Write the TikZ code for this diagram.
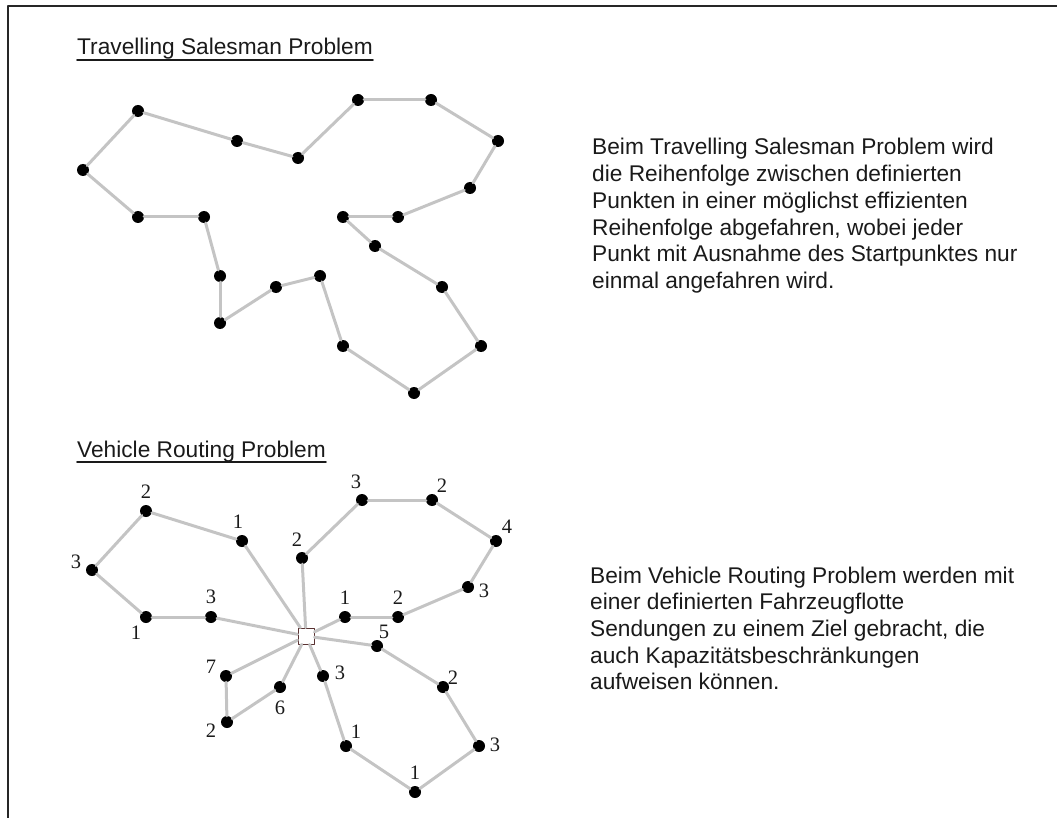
\documentclass[tikz,border=0pt]{standalone}
\usepackage{fontspec}
\setmainfont{Liberation Serif}
\newfontfamily\arialfont{Liberation Sans}
\usepackage{tikz}
\definecolor{edgegray}{RGB}{196,196,196}
\definecolor{txtcol}{RGB}{26,26,26}
\definecolor{depotcol}{RGB}{90,50,50}
\tikzset{
  dot/.style={circle,fill=black,minimum size=12pt,inner sep=0pt},
  depot/.style={rectangle,draw=depotcol,fill=white,line width=0.9pt,minimum size=16pt,inner sep=0pt},
  edge/.style={draw=edgegray,line width=3pt},
  num/.style={inner sep=0pt,text=txtcol,font=\fontsize{20.5}{21}\selectfont},
  heading/.style={inner sep=0pt,anchor=base west,text=txtcol,font=\arialfont\fontsize{22.7}{26}\selectfont},
  bodyline/.style={inner sep=0pt,anchor=base west,text=txtcol,font=\arialfont\fontsize{22.7}{26.7}\selectfont},
  ul/.style={draw=txtcol,line width=1.6pt}
}
\begin{document}
\begin{tikzpicture}[line cap=round,line join=round,x=1pt,y=-1pt]
\useasboundingbox (0,0) rectangle (1057,818);
\draw[line width=2pt,black!85,line cap=butt] (1057,6)--(8,6)--(8,818);
%
% Travelling Salesman Problem
\node[heading] (tsphead) at (77,55) {Travelling Salesman Problem};
\draw[ul] ([yshift=-5pt]tsphead.base west) -- ([yshift=-5pt]tsphead.base east);
\foreach \x/\y [count=\i] in {138/111,237/141,298/158,358/100,431/100,498/141,470/188,398/217,
  343/217,375/246,442/287,481/346,414/393,343/346,320/276,276/287,220/323,220/276,204/217,138/217,83/170}
  \node[dot] (t\i) at (\x,\y) {};
\foreach \i [remember=\i as \j (initially 21)] in {1,...,21}
  \draw[edge] (t\j) -- (t\i);
\foreach \t [count=\i] in {Beim Travelling Salesman Problem wird,die Reihenfolge zwischen definierten,
  Punkten in einer möglichst effizienten,{Reihenfolge abgefahren, wobei jeder},
  Punkt mit Ausnahme des Startpunktes nur,einmal angefahren wird.}
  \node[bodyline] (tsptext\i) at (592,{155+26.7*(\i-1)}) {\t};
%
% Vehicle Routing Problem
\node[heading] (vrphead) at (77,457) {Vehicle Routing Problem};
\draw[ul] ([yshift=-5pt]vrphead.base west) -- ([yshift=-5pt]vrphead.base east);
\node[depot] (d) at (306,636) {};
\foreach \x/\y/\c/\lx/\ly [count=\i] in {242/541/1/238/522,146/511/2/146/492,92/570/3/76/562,
  146/617/1/136/633,211/617/3/211/597,
  302/558/2/297/540,362/500/3/356/482,432/500/2/442/486,496/541/4/507/527,468/587/3/484/591,
  398/617/2/398/598,345/617/1/345/598,
  377/646/5/384/632,443/687/2/453/678,479/746/3/495/745,415/792/1/415/773,346/746/1/356/732,
  323/676/3/340/673,
  226/676/7/211/667,227/722/2/211/731,280/687/6/280/708}
  {\node[dot] (v\i) at (\x,\y) {};
   \node[num] (n\i) at (\lx,\ly) {\c};}
% four tours, each starting and ending at the depot
\foreach \a/\b in {d/v1,v1/v2,v2/v3,v3/v4,v4/v5,v5/d,
  d/v6,v6/v7,v7/v8,v8/v9,v9/v10,v10/v11,v11/v12,v12/d,
  d/v13,v13/v14,v14/v15,v15/v16,v16/v17,v17/v18,v18/d,
  d/v19,v19/v20,v20/v21,v21/d}
  \draw[edge] (\a) -- (\b);
\foreach \t [count=\i] in {Beim Vehicle Routing Problem werden mit,einer definierten Fahrzeugflotte,
  {Sendungen zu einem Ziel gebracht, die},auch Kapazitätsbeschränkungen,aufweisen können.}
  \node[bodyline] (vrptext\i) at (590,{583+26.7*(\i-1)}) {\t};
\end{tikzpicture}
\end{document}
